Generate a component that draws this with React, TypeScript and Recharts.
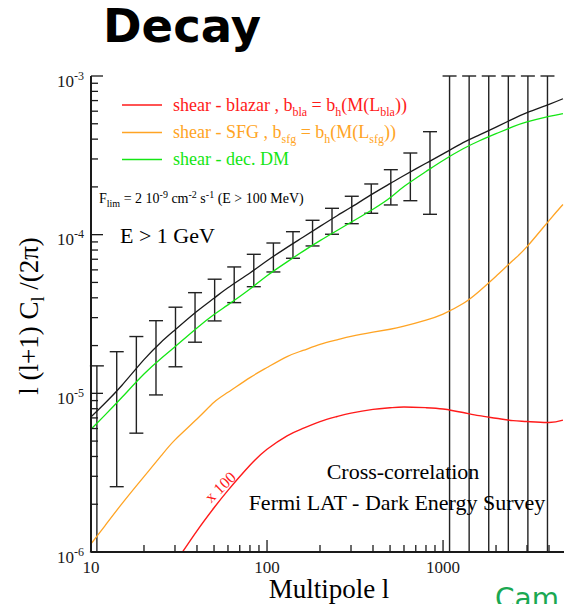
import React from 'react'
import { ComposedChart, ErrorBar, Line, XAxis, YAxis } from 'recharts'

// multipole grid for the model curves
const ells = [10, 12, 15, 20, 25, 30, 40, 50, 60, 80, 100, 130, 160, 200, 250, 300, 400, 500, 600, 800, 1000, 1300, 1600, 2000, 2500, 3000, 4000, 4800]

const totalCl = [7.1e-6, 8.66e-6, 1.125e-5, 1.63e-5, 2.1e-5, 2.51e-5, 3.29e-5, 3.98e-5, 4.63e-5, 5.74e-5, 6.85e-5, 8.32e-5, 9.63e-5, 1.128e-4, 1.317e-4, 1.488e-4, 1.813e-4, 2.097e-4, 2.358e-4, 2.818e-4, 3.228e-4, 3.8e-4, 4.24e-4, 4.76e-4, 5.37e-4, 5.88e-4, 6.63e-4, 7.19e-4]
const decayDm = [5.94e-6, 7.29e-6, 9.44e-6, 1.323e-5, 1.659e-5, 1.966e-5, 2.583e-5, 3.136e-5, 3.61e-5, 4.54e-5, 5.51e-5, 6.74e-5, 7.85e-5, 9.17e-5, 1.063e-4, 1.197e-4, 1.447e-4, 1.709e-4, 2.012e-4, 2.5e-4, 2.935e-4, 3.477e-4, 3.895e-4, 4.33e-4, 4.79e-4, 5.13e-4, 5.56e-4, 5.8e-4]
const sfg = [1.125e-6, 1.463e-6, 2.018e-6, 2.986e-6, 4.03e-6, 5.09e-6, 6.89e-6, 8.78e-6, 1.015e-5, 1.256e-5, 1.454e-5, 1.705e-5, 1.863e-5, 2.033e-5, 2.173e-5, 2.286e-5, 2.43e-5, 2.534e-5, 2.65e-5, 2.896e-5, 3.16e-5, 3.68e-5, 4.385e-5, 5.47e-5, 6.89e-5, 8.4e-5, 1.227e-4, 1.55e-4]
// blazar curve, multiplied by 100
const blazarX100 = [null, null, null, null, null, 8.5e-7, 1.36e-6, 1.9e-6, 2.447e-6, 3.52e-6, 4.44e-6, 5.4e-6, 6.01e-6, 6.63e-6, 7.14e-6, 7.51e-6, 7.92e-6, 8.11e-6, 8.2e-6, 8.12e-6, 7.97e-6, 7.57e-6, 7.23e-6, 6.97e-6, 6.73e-6, 6.64e-6, 6.55e-6, 6.78e-6]

// error bars; the first runs below the frame, the last six span the whole plot
const barEll = [10.8, 14.0, 18.1, 23.4, 30.2, 39.0, 50.4, 65.1, 84.1, 108.7, 140.4, 181.4, 234, 303, 391, 505, 652, 843, 1089, 1407, 1818, 2349, 3034, 3920]
const barLow = [1e-6, 2.58e-6, 5.61e-6, 9.77e-6, 1.47e-5, 2.1e-5, 2.86e-5, 3.73e-5, 4.7e-5, 5.82e-5, 7.1e-5, 8.49e-5, 1.006e-4, 1.173e-4, 1.364e-4, 1.539e-4, 1.637e-4, 1.344e-4, 1e-6, 1e-6, 1e-6, 1e-6, 1e-6, 1e-6]
const barHigh = [1.49e-5, 1.83e-5, 2.28e-5, 2.87e-5, 3.49e-5, 4.31e-5, 5.24e-5, 6.26e-5, 7.52e-5, 8.86e-5, 1.044e-4, 1.232e-4, 1.466e-4, 1.746e-4, 2.087e-4, 2.568e-4, 3.271e-4, 4.457e-4, 1e-3, 1e-3, 1e-3, 1e-3, 1e-3, 1e-3]

const xTicks = [10, 20, 30, 40, 50, 60, 70, 80, 90, 100, 200, 300, 400, 500, 600, 700, 800, 900, 1000, 2000, 3000, 4000]
const yTicks = [1e-6, 2e-6, 3e-6, 4e-6, 5e-6, 6e-6, 7e-6, 8e-6, 9e-6, 1e-5, 2e-5, 3e-5, 4e-5, 5e-5, 6e-5, 7e-5, 8e-5, 9e-5, 1e-4, 2e-4, 3e-4, 4e-4, 5e-4, 6e-4, 7e-4, 8e-4, 9e-4, 1e-3]

const curveRows = ells.map((l, i) => ({
  l,
  total: totalCl[i],
  dm: decayDm[i],
  sfg: sfg[i],
  bla: blazarX100[i],
}))

const barRows = barEll.map((l, i) => ({
  l,
  lo: barLow[i],
  err: [0, barHigh[i] - barLow[i]],
}))

const SERIF = '"Liberation Serif", "Times New Roman", serif'
const SANS = '"DejaVu Sans", Verdana, sans-serif'
const INK = '#1a1a1a'
const RED = '#ff1a1a'
const ORANGE = '#ffa424'
const GREEN = '#14e614'

const X_DOMAIN: [number, number] = [10, 4930]
const Y_DOMAIN: [number, number] = [1e-6, 1e-3]

function isDecade(v: number) {
  const e = Math.log10(v)
  return Math.abs(e - Math.round(e)) < 1e-6
}

function tickLen(v: number) {
  return isDecade(v) ? 12 : 7
}

function BottomTick(props: any) {
  const { x, y, payload } = props
  const major = isDecade(payload.value)
  return (
    <g>
      <line x1={x} y1={y} x2={x} y2={y - tickLen(payload.value)} stroke={INK} strokeWidth={1.3} />
      {major && (
        <text x={x} y={y + 21} textAnchor="middle" fontFamily={SERIF} fontSize={17} fill={INK}>
          {Math.round(payload.value)}
        </text>
      )}
    </g>
  )
}

function TopTick(props: any) {
  const { x, y, payload } = props
  return <line x1={x} y1={y} x2={x} y2={y + tickLen(payload.value)} stroke={INK} strokeWidth={1.3} />
}

function LeftTick(props: any) {
  const { x, y, payload } = props
  const major = isDecade(payload.value)
  return (
    <g>
      <line x1={x} y1={y} x2={x + tickLen(payload.value)} y2={y} stroke={INK} strokeWidth={1.3} />
      {major && (
        <text x={x - 7} y={y + 10.5} textAnchor="end" fontFamily={SERIF} fontSize={17} fill={INK}>
          <tspan>10</tspan>
          <tspan dy={-7} fontSize={12}>{Math.round(Math.log10(payload.value))}</tspan>
        </text>
      )}
    </g>
  )
}

function RightTick(props: any) {
  const { x, y, payload } = props
  return <line x1={x} y1={y} x2={x - tickLen(payload.value)} y2={y} stroke={INK} strokeWidth={1.3} />
}

function Overlay() {
  return (
    <svg
      width={564}
      height={604}
      style={{ position: 'absolute', left: 0, top: 0, pointerEvents: 'none' }}
    >
      <text x={103} y={42} fontFamily={SANS} fontWeight="bold" fontSize={46.5} fill="#000">
        Decay
      </text>

      <line x1={122} y1={105} x2={162} y2={105} stroke={RED} strokeWidth={1.3} />
      <text x={173} y={110.5} fontFamily={SERIF} fontSize={18} fill={RED} style={{ whiteSpace: 'pre' }}>
        <tspan>{'shear - blazar , b'}</tspan>
        <tspan dy={5} fontSize={12}>bla</tspan>
        <tspan dy={-5}>{' = b'}</tspan>
        <tspan dy={5} fontSize={12}>h</tspan>
        <tspan dy={-5}>{'(M(L'}</tspan>
        <tspan dy={5} fontSize={12}>bla</tspan>
        <tspan dy={-5}>{'))'}</tspan>
      </text>
      <line x1={122} y1={132.5} x2={162} y2={132.5} stroke={ORANGE} strokeWidth={1.3} />
      <text x={173} y={138} fontFamily={SERIF} fontSize={18} fill={ORANGE} style={{ whiteSpace: 'pre' }}>
        <tspan>{'shear - SFG , b'}</tspan>
        <tspan dy={5} fontSize={12}>sfg</tspan>
        <tspan dy={-5}>{' = b'}</tspan>
        <tspan dy={5} fontSize={12}>h</tspan>
        <tspan dy={-5}>{'(M(L'}</tspan>
        <tspan dy={5} fontSize={12}>sfg</tspan>
        <tspan dy={-5}>{'))'}</tspan>
      </text>
      <line x1={122} y1={159.5} x2={162} y2={159.5} stroke={GREEN} strokeWidth={1.3} />
      <text x={173} y={165} fontFamily={SERIF} fontSize={18} fill={GREEN}>
        shear - dec. DM
      </text>

      <text x={99} y={203} fontFamily={SERIF} fontSize={14} fill="#000" style={{ whiteSpace: 'pre' }}>
        <tspan>F</tspan>
        <tspan dy={4} fontSize={10}>lim</tspan>
        <tspan dy={-4}>{' = 2 10'}</tspan>
        <tspan dy={-5} fontSize={10}>-9</tspan>
        <tspan dy={5}>{' cm'}</tspan>
        <tspan dy={-5} fontSize={10}>-2</tspan>
        <tspan dy={5}>{' s'}</tspan>
        <tspan dy={-5} fontSize={10}>-1</tspan>
        <tspan dy={5}>{' (E > 100 MeV)'}</tspan>
      </text>

      <text x={120} y={243} fontFamily={SERIF} fontSize={22} fill="#000">
        E &gt; 1 GeV
      </text>

      <text x={403} y={479} textAnchor="middle" fontFamily={SERIF} fontSize={22} fill="#000">
        Cross-correlation
      </text>
      <text x={397} y={510} textAnchor="middle" fontFamily={SERIF} fontSize={22} fill="#000">
        Fermi LAT - Dark Energy Survey
      </text>

      <text
        transform="translate(224,491) rotate(-44)"
        textAnchor="middle"
        fontFamily={SERIF}
        fontSize={16}
        fill={RED}
      >
        x 100
      </text>

      <text
        transform="translate(38,316) rotate(-90)"
        textAnchor="middle"
        fontFamily={SERIF}
        fontSize={27}
        fill="#000"
        style={{ whiteSpace: 'pre' }}
      >
        <tspan>{'l (l+1) C'}</tspan>
        <tspan dy={6} fontSize={18}>l</tspan>
        <tspan dy={-6}>{' /(2\u03c0)'}</tspan>
      </text>

      <text x={329} y={598} textAnchor="middle" fontFamily={SERIF} fontSize={27} fill="#000">
        Multipole l
      </text>

      <text x={495} y={608} fontFamily={SANS} fontSize={28} fill="#1aa852">
        Cam
      </text>
    </svg>
  )
}

export default function App() {
  return (
    <div
      style={{
        position: 'fixed',
        left: 0,
        top: 0,
        width: 564,
        height: 604,
        overflow: 'hidden',
        background: '#fff',
      }}
    >
      <ComposedChart width={580} height={604} margin={{ top: 76, right: 15, bottom: 12, left: 31 }}>
        <XAxis
          dataKey="l"
          type="number"
          scale="log"
          domain={X_DOMAIN}
          allowDataOverflow
          ticks={xTicks}
          interval={0}
          tickSize={0}
          tickMargin={0}
          tickLine={false}
          tick={(p: any) => <BottomTick {...p} />}
          axisLine={{ stroke: INK, strokeWidth: 2 }}
          height={40}
        />
        <XAxis
          xAxisId="top"
          orientation="top"
          dataKey="l"
          type="number"
          scale="log"
          domain={X_DOMAIN}
          allowDataOverflow
          ticks={xTicks}
          interval={0}
          tickSize={0}
          tickMargin={0}
          tickLine={false}
          tick={(p: any) => <TopTick {...p} />}
          axisLine={{ stroke: INK, strokeWidth: 2 }}
          height={0}
        />
        <YAxis
          type="number"
          scale="log"
          domain={Y_DOMAIN}
          allowDataOverflow
          ticks={yTicks}
          interval={0}
          tickSize={0}
          tickMargin={0}
          tickLine={false}
          tick={(p: any) => <LeftTick {...p} />}
          axisLine={{ stroke: INK, strokeWidth: 2 }}
          width={60}
        />
        <YAxis
          yAxisId="right"
          orientation="right"
          type="number"
          scale="log"
          domain={Y_DOMAIN}
          allowDataOverflow
          ticks={yTicks}
          interval={0}
          tickSize={0}
          tickMargin={0}
          tickLine={false}
          tick={(p: any) => <RightTick {...p} />}
          axisLine={{ stroke: INK, strokeWidth: 2 }}
          width={0}
        />

        <Line
          data={barRows}
          dataKey="lo"
          stroke="none"
          dot={false}
          activeDot={false}
          legendType="none"
          isAnimationActive={false}
        >
          <ErrorBar dataKey="err" direction="y" width={7} stroke="#222" strokeWidth={1.4} isAnimationActive={false} />
        </Line>

        <Line data={curveRows} dataKey="sfg" type="natural" stroke={ORANGE} strokeWidth={1.3} dot={false} isAnimationActive={false} />
        <Line data={curveRows} dataKey="bla" type="natural" stroke={RED} strokeWidth={1.4} dot={false} isAnimationActive={false} />
        <Line data={curveRows} dataKey="dm" type="natural" stroke={GREEN} strokeWidth={1.3} dot={false} isAnimationActive={false} />
        <Line data={curveRows} dataKey="total" type="natural" stroke={INK} strokeWidth={1.3} dot={false} isAnimationActive={false} />
      </ComposedChart>
      <Overlay />
    </div>
  )
}
